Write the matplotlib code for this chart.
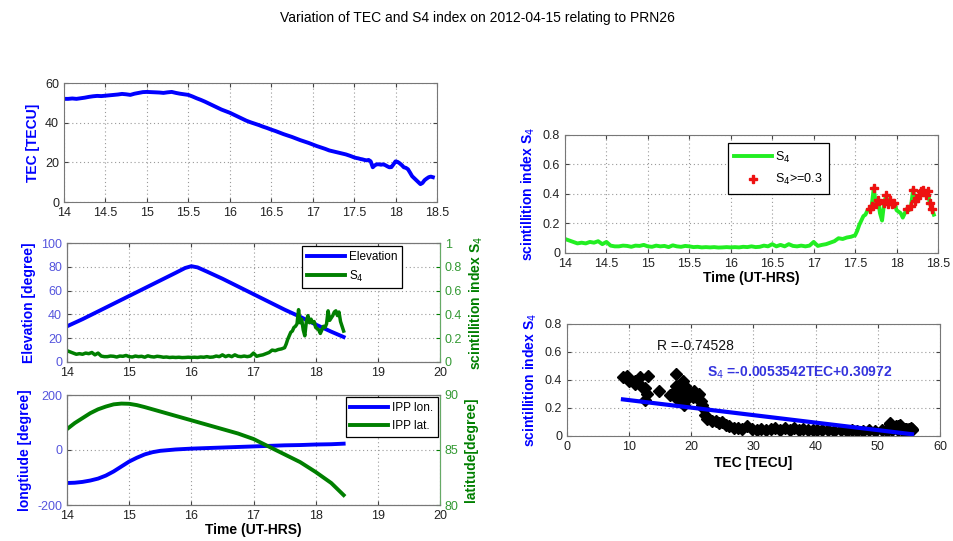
import matplotlib
matplotlib.use("Agg")
import matplotlib.pyplot as plt
import numpy as np

plt.rcParams['font.family'] = ['Liberation Sans', 'DejaVu Sans']
plt.rcParams['axes.unicode_minus'] = False

# ---------------- data ----------------
time_h = [14.0, 14.05, 14.1, 14.15, 14.2, 14.25, 14.3, 14.35, 14.4, 14.45,
          14.5, 14.55, 14.6, 14.65, 14.7, 14.75, 14.8, 14.85, 14.9, 14.95,
          15.0, 15.05, 15.1, 15.15, 15.2, 15.25, 15.3, 15.35, 15.4, 15.45,
          15.5, 15.55, 15.6, 15.65, 15.7, 15.75, 15.8, 15.85, 15.9, 15.95,
          16.0, 16.05, 16.1, 16.15, 16.2, 16.25, 16.3, 16.35, 16.4, 16.45,
          16.5, 16.55, 16.6, 16.65, 16.7, 16.75, 16.8, 16.85, 16.9, 16.95,
          17.0, 17.05, 17.1, 17.15, 17.2, 17.25, 17.3, 17.35, 17.4, 17.45,
          17.5, 17.525, 17.55, 17.575, 17.6, 17.625, 17.65, 17.675, 17.7, 17.725,
          17.75, 17.775, 17.8, 17.825, 17.85, 17.875, 17.9, 17.925, 17.95, 17.975,
          18.0, 18.025, 18.05, 18.075, 18.1, 18.125, 18.15, 18.175, 18.2, 18.225,
          18.25, 18.275, 18.3, 18.325, 18.35, 18.375, 18.4, 18.425, 18.45]

tec = [52.0, 52.0, 52.2, 52.0, 52.3, 52.6, 53.0, 53.3, 53.5, 53.4,
       53.6, 53.8, 54.0, 54.2, 54.5, 54.3, 54.0, 54.6, 55.0, 55.4,
       55.5, 55.4, 55.3, 55.2, 55.0, 55.3, 55.5, 55.0, 54.6, 54.3,
       54.0, 53.2, 52.3, 51.5, 50.6, 49.6, 48.6, 47.6, 46.6, 45.8,
       45.0, 44.0, 43.0, 42.0, 41.0, 40.2, 39.5, 38.8, 38.0, 37.3,
       36.5, 35.8, 35.0, 34.2, 33.5, 32.8, 32.0, 31.2, 30.5, 29.8,
       29.0, 28.2, 27.5, 26.8, 26.0, 25.5, 25.0, 24.5, 24.0, 23.3,
       22.5, 22.2, 22.0, 21.7, 21.5, 21.2, 21.0, 21.2, 20.5, 17.5,
       18.5, 19.0, 19.0, 18.8, 19.0, 18.6, 18.0, 17.5, 17.6, 19.0,
       20.5, 20.2, 19.5, 18.6, 17.5, 17.2, 16.5, 14.8, 13.0, 12.0,
       11.0, 10.0, 9.0, 9.6, 11.0, 11.8, 12.5, 12.8, 12.5]

s4 = [0.095, 0.085, 0.075, 0.065, 0.070, 0.065, 0.075, 0.070, 0.080, 0.060,
      0.075, 0.050, 0.045, 0.045, 0.050, 0.048, 0.042, 0.050, 0.048, 0.055,
      0.045, 0.042, 0.050, 0.045, 0.048, 0.040, 0.052, 0.045, 0.042, 0.048,
      0.045, 0.040, 0.042, 0.038, 0.040, 0.038, 0.040, 0.037, 0.038, 0.040,
      0.038, 0.040, 0.038, 0.042, 0.040, 0.045, 0.040, 0.042, 0.050, 0.045,
      0.060, 0.045, 0.055, 0.045, 0.060, 0.048, 0.045, 0.050, 0.045, 0.050,
      0.075, 0.048, 0.055, 0.060, 0.070, 0.080, 0.100, 0.095, 0.105, 0.110,
      0.120, 0.150, 0.190, 0.220, 0.250, 0.260, 0.290, 0.300, 0.320, 0.440,
      0.330, 0.360, 0.270, 0.220, 0.340, 0.390, 0.330, 0.360, 0.330, 0.340,
      0.290, 0.280, 0.270, 0.240, 0.270, 0.300, 0.290, 0.320, 0.430, 0.350,
      0.370, 0.390, 0.420, 0.430, 0.390, 0.420, 0.340, 0.300, 0.260]

elev_time = [14.0, 14.25, 14.5, 14.75, 15.0, 15.25, 15.5, 15.75, 15.9, 16.0,
             16.1, 16.25, 16.5, 16.75, 17.0, 17.25, 17.5, 17.75, 18.0, 18.25, 18.45]
elevation = [30.0, 36.0, 42.5, 49.0, 55.5, 62.0, 68.5, 75.0, 79.0, 80.5,
             79.5, 76.0, 70.0, 63.5, 57.0, 50.5, 44.0, 38.0, 31.5, 25.5, 21.0]

ipp_time = [14.0, 14.125, 14.25, 14.375, 14.5, 14.625, 14.75, 14.875, 15.0, 15.125,
            15.25, 15.375, 15.5, 15.75, 16.0, 16.25, 16.5, 16.75, 17.0, 17.25,
            17.5, 17.75, 18.0, 18.25, 18.45]
ipp_lon = [-120, -119, -116, -111, -104, -93, -78, -60, -42, -28,
           -16, -8, -3, 2, 5, 7, 9, 11, 13, 15,
           17, 18, 20, 21, 23]
ipp_lat = [86.9, 87.45, 87.9, 88.35, 88.7, 88.95, 89.15, 89.22, 89.2, 89.08,
           88.9, 88.7, 88.5, 88.1, 87.7, 87.3, 86.9, 86.5, 86.0, 85.3,
           84.6, 83.9, 83.0, 82.0, 80.9]

fit_slope = -0.0053542
fit_intercept = 0.30972
r_value = -0.74528
s4_threshold = 0.3

# ---------------- style ----------------
BLUE = '#0000ff'
DGREEN = '#007f00'
LGREEN = '#22ee22'
W, H = 954, 541

fig = plt.figure(figsize=(W / 100, H / 100), dpi=100)
fig.patch.set_facecolor('white')


def add_ax(l, r, t, b):
    return fig.add_axes([l / W, 1 - b / H, (r - l) / W, (b - t) / H])


def style(ax, tick_color='#222222'):
    ax.grid(True, linestyle=(0, (1, 2.5)), color='#999999', linewidth=0.8)
    ax.tick_params(direction='in', labelsize=9, length=3, colors='#444444',
                   labelcolor=tick_color, top=True, right=True)
    for s in ax.spines.values():
        s.set_color('#777777')
        s.set_linewidth(0.8)


lab_kw = dict(fontsize=10, fontweight='bold')
leg_kw = dict(fancybox=False, edgecolor='black', framealpha=1, borderaxespad=0.2)

fig.text(0.5, 1 - 18 / H, 'Variation of TEC and S4 index on 2012-04-15 relating to PRN26',
         ha='center', va='center', fontsize=10)

# Panel 1: TEC
ax1 = add_ax(64, 437, 83, 202)
style(ax1)
ax1.plot(time_h, tec, color=BLUE, linewidth=2.8)
ax1.set_xlim(14, 18.5)
ax1.set_ylim(0, 60)
ax1.set_xticks([14, 14.5, 15, 15.5, 16, 16.5, 17, 17.5, 18, 18.5])
ax1.set_xticklabels(['14', '14.5', '15', '15.5', '16', '16.5', '17', '17.5', '18', '18.5'])
ax1.set_yticks([0, 20, 40, 60])
ax1.set_ylabel('TEC [TECU]', color=BLUE, **lab_kw)

# Panel 2: Elevation & S4
ax2 = add_ax(67, 440, 243, 362)
style(ax2, tick_color='#5555dd')
ax2.tick_params(right=False)
l1, = ax2.plot(elev_time, elevation, color=BLUE, linewidth=2.8, label='Elevation')
ax2.set_xlim(14, 20)
ax2.set_ylim(0, 100)
ax2.set_yticks([0, 20, 40, 60, 80, 100])
ax2.set_xticks([14, 15, 16, 17, 18, 19, 20])
ax2.tick_params(axis='x', labelcolor='#222222')
ax2.set_ylabel('Elevation [degree]', color=BLUE, **lab_kw)
ax2b = ax2.twinx()
ax2b.plot(time_h, s4, color=DGREEN, linewidth=2.5)
l2, = ax2b.plot([], [], color=DGREEN, linewidth=2.8, label='S$_4$')
ax2b.set_ylim(0, 1)
ax2b.set_yticks([0, 0.2, 0.4, 0.6, 0.8, 1])
ax2b.set_yticklabels(['0', '0.2', '0.4', '0.6', '0.8', '1'])
ax2b.tick_params(direction='in', labelsize=9, length=3, colors=DGREEN, labelcolor='#339933')
ax2b.set_ylabel('scintillition index S$_4$', color=DGREEN, **lab_kw)
for s in ax2b.spines.values():
    s.set_color('#777777')
    s.set_linewidth(0.8)
ax2b.spines['right'].set_color('#66aa66')
leg = ax2b.legend(handles=[l1, l2], loc='upper left', bbox_to_anchor=(0.625, 0.995),
                  fontsize=8.5, handlelength=3.2, borderpad=0.4, labelspacing=0.5,
                  handletextpad=0.3, **leg_kw)
leg.get_frame().set_linewidth(0.9)

# Panel 3: IPP lon / lat
ax3 = add_ax(67, 440, 395, 505)
style(ax3, tick_color='#5555dd')
ax3.tick_params(right=False)
l3, = ax3.plot(ipp_time, ipp_lon, color=BLUE, linewidth=2.8, label='IPP lon.')
ax3.set_xlim(14, 20)
ax3.set_ylim(-200, 200)
ax3.set_yticks([-200, 0, 200])
ax3.set_xticks([14, 15, 16, 17, 18, 19, 20])
ax3.tick_params(axis='x', labelcolor='#222222')
ax3.set_ylabel('longtiude [degree]', color=BLUE, **lab_kw)
ax3.set_xlabel('Time (UT-HRS)', labelpad=1, **lab_kw)
ax3b = ax3.twinx()
ax3b.plot(ipp_time, ipp_lat, color=DGREEN, linewidth=2.8)
l4, = ax3b.plot([], [], color=DGREEN, linewidth=2.8, label='IPP lat.')
ax3b.set_ylim(80, 90)
ax3b.set_yticks([80, 85, 90])
ax3b.tick_params(direction='in', labelsize=9, length=3, colors=DGREEN, labelcolor='#339933')
ax3b.set_ylabel('latitude[degree]', color=DGREEN, **lab_kw)
for s in ax3b.spines.values():
    s.set_color('#777777')
    s.set_linewidth(0.8)
ax3b.spines['right'].set_color('#66aa66')
leg = ax3b.legend(handles=[l3, l4], loc='upper right', bbox_to_anchor=(1.0, 1.0),
                  fontsize=8.5, handlelength=3.2, borderpad=0.4, labelspacing=0.5,
                  handletextpad=0.3, **leg_kw)
leg.get_frame().set_linewidth(0.9)

# Panel 4: S4 time series with threshold points
ax4 = add_ax(565, 938, 135, 253)
style(ax4)
ax4.plot(time_h, s4, color=LGREEN, linewidth=2.8, label='S$_4$')
t_arr = np.array(time_h)
s_arr = np.array(s4)
mask = s_arr >= s4_threshold
ax4.plot(t_arr[mask], s_arr[mask], linestyle='none', marker='P', color='#ee1111',
         markersize=6, label='S$_4$>=0.3')
ax4.set_xlim(14, 18.5)
ax4.set_ylim(0, 0.8)
ax4.set_xticks([14, 14.5, 15, 15.5, 16, 16.5, 17, 17.5, 18, 18.5])
ax4.set_xticklabels(['14', '14.5', '15', '15.5', '16', '16.5', '17', '17.5', '18', '18.5'])
ax4.set_yticks([0, 0.2, 0.4, 0.6, 0.8])
ax4.set_yticklabels(['0', '0.2', '0.4', '0.6', '0.8'])
ax4.set_ylabel('scintillition index S$_4$', color=BLUE, **lab_kw)
ax4.set_xlabel('Time (UT-HRS)', labelpad=1, **lab_kw)
leg = ax4.legend(loc='upper left', bbox_to_anchor=(0.43, 0.95), fontsize=9,
                 handlelength=3.0, borderpad=0.5, labelspacing=0.6,
                 handletextpad=0.3, **leg_kw)
leg.get_frame().set_linewidth(0.9)

# Panel 5: S4 vs TEC scatter with fit
ax5 = add_ax(567, 940, 324, 436)
style(ax5)
tec_arr = np.array(tec)
ax5.plot(tec_arr, s_arr, linestyle='none', marker='D', color='black', markersize=6.5)
fx = np.array([tec_arr.min(), tec_arr.max()])
ax5.plot(fx, fit_slope * fx + fit_intercept, color=BLUE, linewidth=3)
ax5.set_xlim(0, 60)
ax5.set_ylim(0, 0.8)
ax5.set_xticks([0, 10, 20, 30, 40, 50, 60])
ax5.set_yticks([0, 0.2, 0.4, 0.6, 0.8])
ax5.set_yticklabels(['0', '0.2', '0.4', '0.6', '0.8'])
ax5.set_ylabel('scintillition index S$_4$', color=BLUE, **lab_kw)
ax5.set_xlabel('TEC [TECU]', labelpad=2, **lab_kw)
ax5.text(14.5, 0.645, 'R =%.5f' % r_value, fontsize=10, color='#111111', va='center')
ax5.text(22.5, 0.45, 'S$_4$ =%.7fTEC+%.5f' % (fit_slope, fit_intercept), fontsize=10,
         color='#3333dd', fontweight='bold', va='center')

fig.savefig('out.png', dpi=100, facecolor='white')
